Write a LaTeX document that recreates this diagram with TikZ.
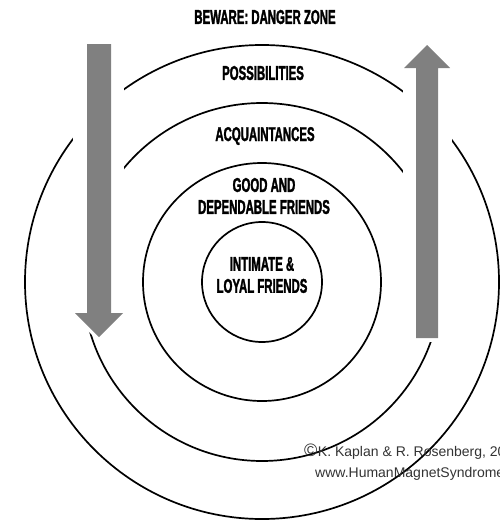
\documentclass[tikz,border=0pt]{standalone}
\usepackage{fontspec}
\setmainfont{Liberation Sans}
\newfontfamily\headfont[FakeStretch=0.57,FakeBold=1.5]{Liberation Sans}
\begin{document}
\begin{tikzpicture}[x=1pt,y=-1pt,
  ring/.style={circle,draw=black,line width=1.7pt,inner sep=0pt,fill=none},
  zonelabel/.style={font=\headfont\bfseries\fontsize{20}{22}\selectfont,align=center,inner sep=0pt,anchor=center},
  credit/.style={font=\fontsize{14}{16}\selectfont,text=black!80,inner sep=0pt,anchor=base west},
  gapmask/.style={fill=white,draw=white,line width=7pt,line join=miter},
  flow/.style={fill=black!50,draw=none}]
\useasboundingbox (0,0) rectangle (500,522);
\clip (0,0) rectangle (500,522);

% concentric zones
\coordinate (ctr) at (262,282);
\node[ring,minimum size=474pt] (outer) at (ctr) {};
\node[ring,minimum size=358pt] (acq) at (ctr) {};
\node[ring,minimum size=238pt] (good) at (ctr) {};
\node[ring,minimum size=120pt] (inner) at (ctr) {};

% white channels behind the arrows
\fill[white] (73,40) rectangle (124,313);
\path[gapmask] (87,44) -- (111,44) -- (111,313) -- (123,313) -- (99,337) -- (75,313) -- (87,313) -- cycle;
\fill[white] (403,45) rectangle (452,342);
\path[gapmask] (427,45) -- (450,68) -- (438,68) -- (438,338) -- (416,338) -- (416,68) -- (404,68) -- cycle;

% arrows: moving out (down) and moving in (up)
\path[flow] (87,44) -- (111,44) -- (111,313) -- (123,313) -- (99,337) -- (75,313) -- (87,313) -- cycle;
\path[flow] (427,45) -- (450,68) -- (438,68) -- (438,338) -- (416,338) -- (416,68) -- (404,68) -- cycle;

% labels
\node[zonelabel] (danger) at (265,17) {BEWARE: DANGER ZONE};
\node[zonelabel] (poss) at (263,73) {POSSIBILITIES};
\node[zonelabel] (acqlbl) at (265,136) {ACQUAINTANCES};
\node[zonelabel] (goodlbl) at (264,196) {GOOD AND\\DEPENDABLE FRIENDS};
\node[zonelabel] (innerlbl) at (262,275) {INTIMATE \&\\LOYAL FRIENDS};

% credit lines
\node[credit] (copy) at (304,456) {{\fontsize{18}{18}\selectfont ©}\hspace{0.5pt}K. Kaplan \& R. Rosenberg, 2013};
\node[credit] (web) at (315,477) {www.HumanMagnetSyndrome.com};
\end{tikzpicture}
\end{document}
